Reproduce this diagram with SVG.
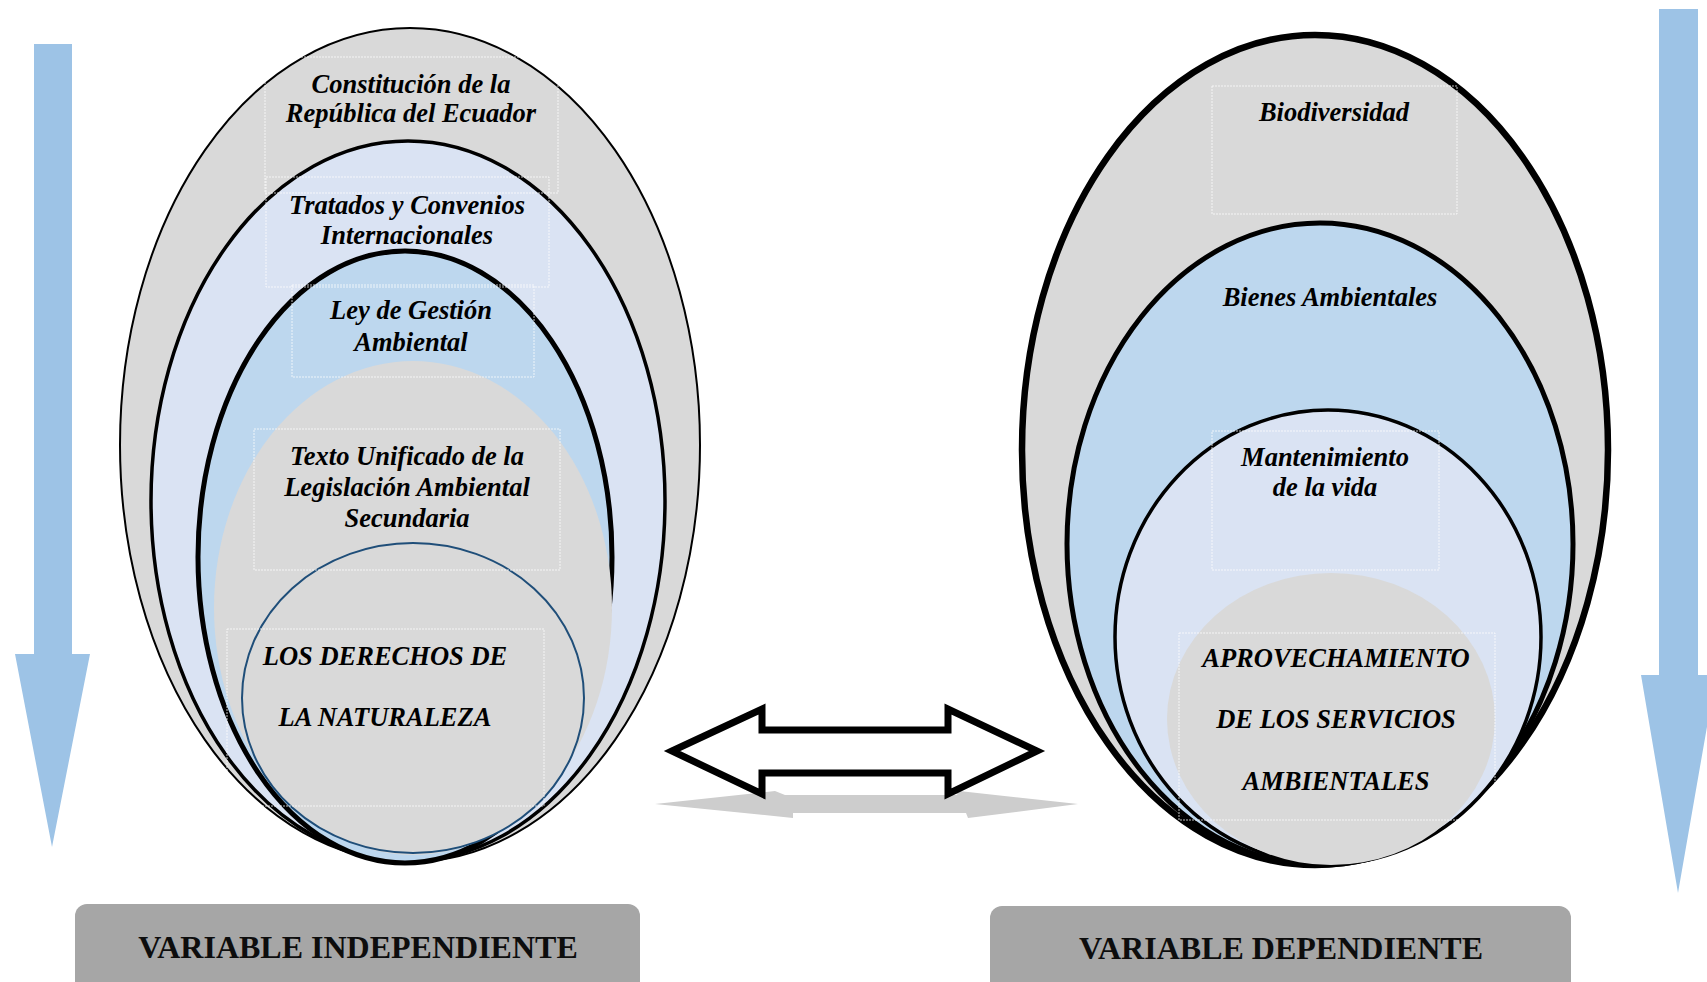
<svg xmlns="http://www.w3.org/2000/svg" width="1707" height="982" viewBox="0 0 1707 982">
<style>
.t{font-family:"Liberation Serif","Times New Roman",serif;font-weight:bold;font-style:italic;font-size:26.5px;fill:#000;text-anchor:middle}
.v{font-family:"Liberation Serif","Times New Roman",serif;font-weight:bold;font-size:32px;fill:#0d0d0d;text-anchor:middle}
.box{fill:none;stroke:#ffffff;stroke-opacity:0.75;stroke-width:1;stroke-dasharray:2 1}
.gray{fill:#d9d9d9}
.lb{fill:#dae3f3}
.mb{fill:#bdd7ee}
.bar{fill:#a6a6a6}
.down{fill:#9dc3e6}
</style>
<rect width="1707" height="982" fill="#ffffff"/>
<g id="flecha-izquierda">
<polygon class="down" points="34,44 72,44 72,654 90,654 52,847 15,654 34,654"/>
</g>
<g id="flecha-derecha">
<polygon class="down" points="1659,9 1698,9 1698,675 1716,675 1678,893 1641,675 1659,675"/>
</g>
<g id="independiente">
<ellipse class="gray" cx="410" cy="445" rx="290" ry="417" stroke="#000" stroke-width="2"/>
<ellipse class="lb" cx="408" cy="501" rx="257" ry="360" stroke="#000" stroke-width="3.5"/>
<ellipse class="mb" cx="405" cy="557" rx="207" ry="306" stroke="#000" stroke-width="5"/>
<ellipse class="gray" cx="413" cy="608" rx="199" ry="247"/>
<ellipse class="gray" cx="413" cy="698" rx="171" ry="155" stroke="#1f4e79" stroke-width="2"/>
<rect class="box" x="265" y="57" width="293" height="136"/>
<rect class="box" x="266" y="177" width="283" height="110"/>
<rect class="box" x="292" y="285" width="242" height="92"/>
<rect class="box" x="254" y="429" width="306" height="141"/>
<rect class="box" x="227" y="629" width="317" height="177"/>
<text class="t" x="411" y="93">Constitución de la</text>
<text class="t" x="411" y="122">República del Ecuador</text>
<text class="t" x="407" y="214">Tratados y Convenios</text>
<text class="t" x="407" y="244">Internacionales</text>
<text class="t" x="411" y="319">Ley de Gestión</text>
<text class="t" x="411" y="351">Ambiental</text>
<text class="t" x="407" y="465">Texto Unificado de la</text>
<text class="t" x="407" y="496">Legislación Ambiental</text>
<text class="t" x="407" y="527">Secundaria</text>
<text class="t" x="385" y="665">LOS DERECHOS DE</text>
<text class="t" x="385" y="726">LA NATURALEZA</text>
</g>
<g id="dependiente">
<ellipse class="gray" cx="1315" cy="450" rx="293" ry="415" stroke="#000" stroke-width="6.5"/>
<ellipse class="mb" cx="1320" cy="544" rx="253" ry="321" stroke="#000" stroke-width="5"/>
<ellipse class="lb" cx="1328" cy="637" rx="213" ry="227" stroke="#000" stroke-width="3.5"/>
<ellipse class="gray" cx="1331" cy="719" rx="164" ry="146"/>
<rect class="box" x="1212" y="86" width="245" height="128"/>
<rect class="box" x="1212" y="431" width="227" height="139"/>
<rect class="box" x="1179" y="633" width="316" height="187"/>
<text class="t" x="1334" y="121">Biodiversidad</text>
<text class="t" x="1330" y="306">Bienes Ambientales</text>
<text class="t" x="1325" y="466">Mantenimiento</text>
<text class="t" x="1325" y="496">de la vida</text>
<text class="t" x="1336" y="667">APROVECHAMIENTO</text>
<text class="t" x="1336" y="728">DE LOS SERVICIOS</text>
<text class="t" x="1336" y="790">AMBIENTALES</text>
</g>
<g id="conectores">
<polygon fill="#cdcdcd" points="655,804 775,791 785,795 958,795 950,790 1078,804 968,818 966,813 793,813 793,818"/>
<polygon fill="#ffffff" stroke="#000" stroke-width="7" stroke-linejoin="miter" points="672,751 762,709 762,730 948,730 948,709 1037,751 948,794 948,773 762,773 762,794"/>
</g>
<g id="variable-independiente">
<rect class="bar" x="75" y="904" width="565" height="110" rx="12"/>
<text class="v" x="358" y="958">VARIABLE INDEPENDIENTE</text>
</g>
<g id="variable-dependiente">
<rect class="bar" x="990" y="906" width="581" height="110" rx="12"/>
<text class="v" x="1281" y="959">VARIABLE DEPENDIENTE</text>
</g>
</svg>
